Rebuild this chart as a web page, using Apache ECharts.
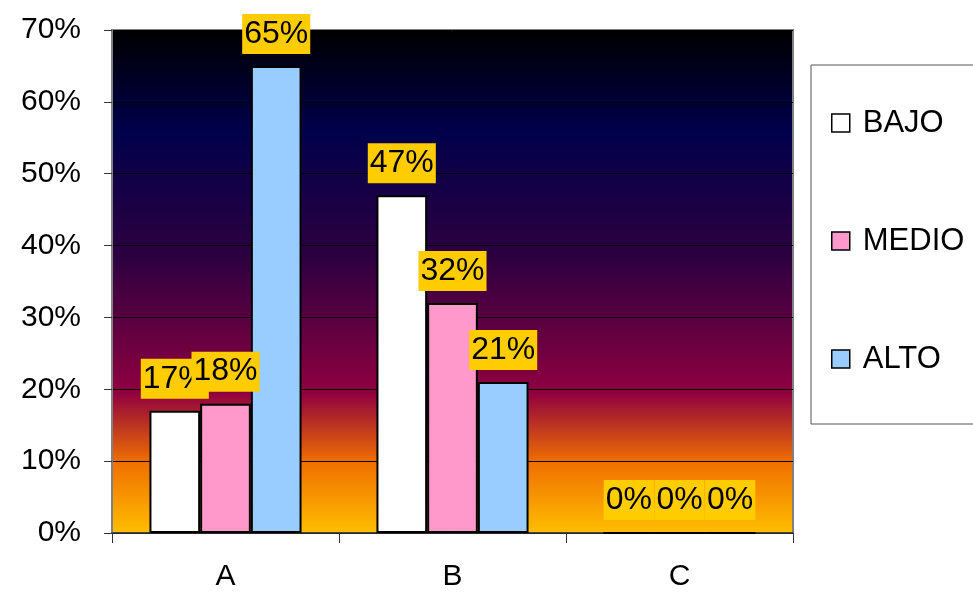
<!DOCTYPE html>
<html>
<head>
<meta charset="utf-8">
<style>html,body{margin:0;padding:0;background:#fff;}#c{width:973px;height:592px;}</style>
<script src="https://cdn.jsdelivr.net/npm/echarts@6/dist/echarts.min.js"></script>
</head>
<body>
<div id="c"></div>
<script>
const categories = ['A', 'B', 'C'];
const seriesNames = ['BAJO', 'MEDIO', 'ALTO'];
const bajo = [17, 47, 0];
const medio = [18, 32, 0];
const alto = [65, 21, 0];
const seriesColors = ['#FFFFFF', '#FF99CC', '#99CCFF'];
const yTicks = { min: 0, max: 70, interval: 10 };

const FONT = '"Liberation Sans", Arial, sans-serif';
const chart = echarts.init(document.getElementById('c'), null, { renderer: 'canvas' });

const bg = new echarts.graphic.LinearGradient(0, 0, 0, 1, [
  { offset: 0, color: '#000000' },
  { offset: 0.2, color: '#00004a' },
  { offset: 0.45, color: '#2c0040' },
  { offset: 0.72, color: '#8f0040' },
  { offset: 0.86, color: '#f07000' },
  { offset: 1, color: '#ffbf00' }
]);

function mk(name, data, color) {
  return {
    name: name,
    type: 'bar',
    data: data,
    barGap: '0%',
    barCategoryGap: '33%',
    itemStyle: { color: color, borderColor: '#000', borderWidth: 2 },
    label: {
      show: true,
      position: 'top',
      distance: 12,
      formatter: '{c}%',
      color: '#000',
      fontFamily: FONT,
      fontSize: 32,
      lineHeight: 34,
      backgroundColor: '#FFCC00',
      padding: [3, 2, 3, 2]
    }
  };
}

chart.setOption({
  animation: false,
  textStyle: { fontFamily: FONT },
  grid: {
    left: 112, right: 180, top: 30, bottom: 58,
    show: true,
    backgroundColor: bg,
    borderColor: '#808080',
    borderWidth: 2
  },
  legend: {
    orient: 'vertical',
    left: 811,
    top: 65,
    data: seriesNames,
    icon: 'rect',
    itemWidth: 18,
    itemHeight: 18,
    itemGap: 86,
    backgroundColor: '#fff',
    borderColor: '#555',
    borderWidth: 1,
    padding: [42, 60, 49, 20],
    itemStyle: { borderColor: '#000', borderWidth: 1.5 },
    textStyle: { fontSize: 31, lineHeight: 32, color: '#000', fontFamily: FONT, padding: [0, 0, 0, 8] }
  },
  xAxis: {
    type: 'category',
    data: categories,
    axisLine: { lineStyle: { color: '#333', width: 1.5 } },
    axisTick: { show: true, length: 10, lineStyle: { color: '#333' } },
    axisLabel: { fontSize: 30, color: '#000', margin: 29, fontFamily: FONT }
  },
  yAxis: {
    type: 'value',
    min: yTicks.min, max: yTicks.max, interval: yTicks.interval,
    axisLine: { show: true, lineStyle: { color: '#808080', width: 2 } },
    axisTick: { show: true, length: 8, lineStyle: { color: '#333' } },
    splitLine: { show: true, lineStyle: { color: '#000', width: 1 } },
    axisLabel: { formatter: '{value}%', fontSize: 30, color: '#000', margin: 31, fontFamily: FONT }
  },
  series: [
    mk(seriesNames[0], bajo, seriesColors[0]),
    mk(seriesNames[1], medio, seriesColors[1]),
    mk(seriesNames[2], alto, seriesColors[2])
  ]
});
</script>
</body>
</html>
